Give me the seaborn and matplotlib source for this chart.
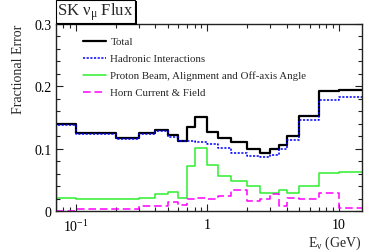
import numpy as np
import pandas as pd
import matplotlib
matplotlib.use("Agg")
import matplotlib.pyplot as plt
import seaborn as sns
from matplotlib.patches import Rectangle
from matplotlib.ticker import FixedLocator, MultipleLocator, NullFormatter

# bin edges in GeV (first/last edges cut by the axis range)
edges = [0.07, 0.1, 0.2, 0.3, 0.4, 0.5, 0.6, 0.7, 0.8, 1.0, 1.2, 1.5,
         2.0, 2.5, 3.0, 3.5, 4.0, 5.0, 7.0, 10.0, 30.0]

total = [0.140, 0.1255, 0.117, 0.1255, 0.131, 0.122, 0.113, 0.135, 0.151,
         0.127, 0.117, 0.111, 0.100, 0.094, 0.100, 0.106, 0.120, 0.153,
         0.192, 0.194]
hadronic = [0.138, 0.124, 0.116, 0.124, 0.128, 0.119, 0.112, 0.112, 0.1105,
            0.108, 0.101, 0.093, 0.089, 0.087, 0.090, 0.099, 0.1146, 0.147,
            0.179, 0.1827]
proton_beam = [0.022, 0.020, 0.020, 0.021, 0.027, 0.031, 0.022, 0.072, 0.102,
               0.074, 0.057, 0.049, 0.041, 0.030, 0.030, 0.034, 0.029, 0.040,
               0.061, 0.063]
horn = [0.001, 0.004, 0.004, 0.009, 0.009, 0.015, 0.010, 0.019, 0.021, 0.019,
        0.024, 0.034, 0.017, 0.019, 0.028, 0.009, 0.022, 0.020, 0.030, 0.005]

labels = ["Total", "Hadronic Interactions",
          "Proton Beam, Alignment and Off-axis Angle", "Horn Current & Field"]

sns.set_style("ticks")
plt.rcParams["font.family"] = ["Liberation Serif", "DejaVu Serif"]
plt.rcParams["mathtext.fontset"] = "custom"
plt.rcParams["mathtext.rm"] = "Liberation Serif"
plt.rcParams["mathtext.it"] = "Liberation Serif:italic"


def step_frame(vals):
    # histogram outline: rise from zero at first edge, then one step per bin
    x = [edges[0]] + list(edges)
    y = [0.0] + list(vals) + [vals[-1]]
    return pd.DataFrame({"E": x, "err": y})


fig = plt.figure(figsize=(3.74, 2.53), dpi=100)
ax = fig.add_axes([56 / 374, 1 - 212.3 / 253, 306 / 374, 187.3 / 253])

styles = [
    (total, "black", 1.6, "-"),
    (hadronic, "#0000ff", 1.1, (0, (1.4, 1.0))),
    (proton_beam, "#2ef02e", 1.1, "-"),
    (horn, "#ff00ff", 1.1, (0, (5, 2.5))),
]
for (vals, col, lw, ls), lab in zip(styles, labels):
    sns.lineplot(data=step_frame(vals), x="E", y="err", ax=ax,
                 estimator=None, sort=False, drawstyle="steps-post",
                 color=col, linewidth=lw, linestyle=ls, label=lab)

ax.set_xscale("log")
ax.set_xlim(0.0704, 15.0)
ax.set_ylim(0, 0.3)

ax.xaxis.set_major_locator(FixedLocator([0.1, 1, 10]))
ax.set_xticklabels(["$10^{-1}$", "1", "10"])
minors = [m * 10.0 ** d for d in (-2, -1, 0, 1) for m in range(2, 10)]
ax.xaxis.set_minor_locator(FixedLocator(minors))
ax.xaxis.set_minor_formatter(NullFormatter())

ax.set_yticks([0, 0.1, 0.2, 0.3])
ax.set_yticklabels(["0", "0.1", "0.2", "0.3"])
ax.yaxis.set_minor_locator(MultipleLocator(0.02))

ax.tick_params(which="both", direction="in", top=True, right=True,
               colors="#222222", labelcolor="black", labelsize=10)
ax.tick_params(which="major", length=5, width=0.8)
ax.tick_params(which="minor", length=3, width=0.8)
ax.tick_params(axis="x", pad=5)
ax.tick_params(axis="y", pad=3)
for sp in ax.spines.values():
    sp.set_color("#222222")
    sp.set_linewidth(1.0)

ax.set_xlabel(r"E$_{\mathregular{\nu}}$ (GeV)", fontsize=10, loc="right")
ax.xaxis.set_label_coords(1.0, -0.12)
ax.xaxis.label.set_va("top")
ax.set_ylabel("Fractional Error", fontsize=10, loc="top")
ax.yaxis.set_label_coords(-0.10, 1.0)

ax.legend(loc="upper left", bbox_to_anchor=(0.075, 0.955), frameon=False,
          fontsize=7.8, handlelength=2.1, handletextpad=0.4,
          labelspacing=0.68, borderaxespad=0)

# title box with ROOT-style shadow
fig.patches.append(Rectangle((58 / 374, 1 - 26 / 253), 79 / 374, 24 / 253,
                             transform=fig.transFigure, facecolor="black",
                             edgecolor="none", zorder=5))
fig.patches.append(Rectangle((56 / 374, 1 - 24 / 253), 79 / 374, 23.5 / 253,
                             transform=fig.transFigure, facecolor="white",
                             edgecolor="black", linewidth=0.8, zorder=6))
fig.text(95.5 / 374, 1 - 12.5 / 253, r"SK $\mathregular{\nu_{\mu}}$ Flux",
         fontsize=12, ha="center", va="center", zorder=7)

fig.savefig("out.png", dpi=100)
